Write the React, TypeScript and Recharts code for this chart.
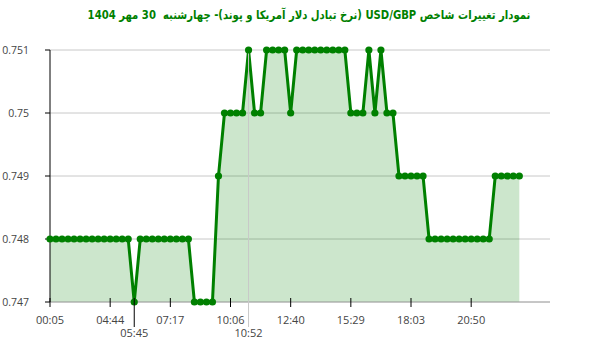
import React from "react";
import { ComposedChart, Area, XAxis, YAxis, CartesianGrid, ReferenceLine } from "recharts";

const TITLE = "نمودار تغییرات شاخص USD/GBP (نرخ تبادل دلار آمریکا و پوند)- چهارشنبه  30 مهر 1404";

const values: number[] = [
  0.748, 0.748, 0.748, 0.748, 0.748, 0.748, 0.748, 0.748, 0.748, 0.748, 0.748, 0.748, 0.748, 0.748,
  0.747,
  0.748, 0.748, 0.748, 0.748, 0.748, 0.748, 0.748, 0.748, 0.748,
  0.747, 0.747, 0.747, 0.747,
  0.749,
  0.75, 0.75, 0.75, 0.75,
  0.751,
  0.75, 0.75,
  0.751, 0.751, 0.751, 0.751,
  0.75,
  0.751, 0.751, 0.751, 0.751, 0.751, 0.751, 0.751, 0.751, 0.751,
  0.75, 0.75, 0.75,
  0.751,
  0.75,
  0.751,
  0.75, 0.75,
  0.749, 0.749, 0.749, 0.749, 0.749,
  0.748, 0.748, 0.748, 0.748, 0.748, 0.748, 0.748, 0.748, 0.748, 0.748, 0.748,
  0.749, 0.749, 0.749, 0.749, 0.749,
];

const tickIndices: number[] = [0, 10, 14, 20, 30, 33, 40, 50, 60, 70];
const tickLabels: string[] = ["00:05", "04:44", "05:45", "07:17", "10:06", "10:52", "12:40", "15:29", "18:03", "20:50"];
const minIndex = 14;
const maxIndex = 33;
const yTicks: number[] = [0.747, 0.748, 0.749, 0.75, 0.751];

const data = values.map((v, i) => ({ i, v }));

const GREEN = "#008000";
const FONT = "'Open Sans', 'DejaVu Sans', sans-serif";

const XTick = (props: any) => {
  const { x, y, payload } = props;
  const idx = tickIndices.indexOf(payload.value);
  const label = idx >= 0 ? tickLabels[idx] : "";
  const isMin = payload.value === minIndex;
  const isMax = payload.value === maxIndex;
  if (isMin || isMax) {
    return (
      <g>
        <line x1={x} x2={x} y1={y - 4} y2={y + 25} stroke={isMin ? "#000" : "#c8c8c8"} strokeWidth={1} />
        <text x={x} y={y + 35} textAnchor="middle" fontSize={11} fill="#444" fontFamily={FONT}>{label}</text>
      </g>
    );
  }
  return (
    <g>
      <line x1={x} x2={x} y1={y - 4} y2={y + 5} stroke="#000" strokeWidth={1} />
      <text x={x} y={y + 22} textAnchor="middle" fontSize={11} fill="#444" fontFamily={FONT}>{label}</text>
    </g>
  );
};

const renderDot = (p: any) => (
  <circle key={`d-${p.index}`} cx={p.cx} cy={p.cy} r={3.6} fill={GREEN} stroke="none" />
);

export default function App() {
  return (
    <div style={{ position: "absolute", left: 0, top: 0, width: 600, height: 352, background: "#fff" }}>
      <div
        dir="rtl"
        style={{
          position: "absolute",
          left: 0,
          top: 8,
          width: 618,
          textAlign: "center",
          fontFamily: "'DejaVu Sans', sans-serif",
          fontWeight: "bold",
          fontSize: 12,
          color: GREEN,
          whiteSpace: "pre",
          transform: "scaleX(0.84)",
          transformOrigin: "309px 0",
        }}
      >
        {TITLE}
      </div>
      <ComposedChart width={600} height={352} data={data} margin={{ top: 50, right: 50, bottom: 0, left: 0 }}>
        <CartesianGrid vertical={false} stroke="#c8c8c8" />
        <ReferenceLine x={maxIndex} stroke="#c8c8c8" />
        <XAxis
          dataKey="i"
          type="number"
          domain={[0, 83.1]}
          ticks={tickIndices}
          interval={0}
          height={50}
          tickSize={0}
          tickMargin={0}
          tickLine={false}
          axisLine={{ stroke: "#aaa" }}
          tick={<XTick />}
        />
        <YAxis
          domain={[0.747, 0.751]}
          ticks={yTicks}
          width={50}
          tickSize={5}
          tickMargin={16}
          axisLine={{ stroke: "#000" }}
          tickLine={{ stroke: "#000" }}
          tick={{ fontSize: 10.5, fill: "#444", fontFamily: FONT }}
        />
        <Area
          type="linear"
          dataKey="v"
          stroke={GREEN}
          strokeWidth={3}
          fill={GREEN}
          fillOpacity={0.2}
          baseValue="dataMin"
          dot={renderDot}
          activeDot={false}
          isAnimationActive={false}
        />
      </ComposedChart>
    </div>
  );
}
